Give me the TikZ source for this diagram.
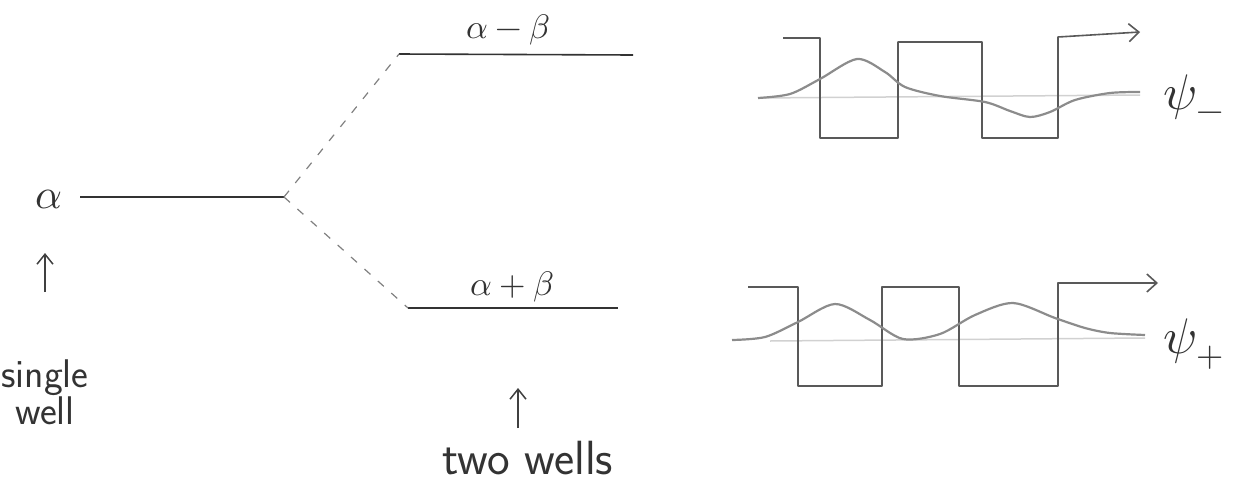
\documentclass[tikz,border=0pt]{standalone}
\usepackage{unicode-math}
\setmathfont{Latin Modern Math}
\usetikzlibrary{arrows.meta}
\begin{document}
\begin{tikzpicture}[x=1pt,y=-1pt,
  level/.style={line width=1.6pt, draw=black!80},
  wellline/.style={line width=1.6pt, draw=black!65, line join=round},
  wave/.style={line width=2.2pt, draw=black!45},
  axisline/.style={line width=1.5pt, draw=black!18},
  conn/.style={line width=1.2pt, draw=black!50, dash pattern=on 8pt off 10pt},
  lbl/.style={font=\fontsize{34}{38}\selectfont, inner sep=0pt, text=black!80},
  biglbl/.style={font=\fontsize{50}{55}\selectfont, inner sep=0pt, text=black!80},
  txt/.style={font=\sffamily\fontsize{40}{34}\selectfont, inner sep=0pt, text=black!80},
  uparrow/.style={-{Straight Barb[length=10pt,width=16pt]}, line width=1.5pt, draw=black!75},
  tip/.style={-{Straight Barb[length=10pt,width=18pt]}}]
\useasboundingbox (0,0) rectangle (1242,488);

% energy levels
\node[biglbl, font=\fontsize{42}{46}\selectfont] (alpha) at (49,199) {$\alpha$};
\coordinate (s0) at (80,197);
\coordinate (s1) at (284,197);
\draw[level] (s0) -- (s1);

\coordinate (u0) at (399,54);
\coordinate (u1) at (633,55);
\draw[level] (u0) -- (u1);
\node[lbl] (am) at (508,30) {$\alpha-\beta$};

\coordinate (l0) at (408,308);
\coordinate (l1) at (618,308);
\draw[level] (l0) -- (l1);
\node[lbl] (ap) at (512,287) {$\alpha+\beta$};

\draw[conn] (s1) -- (u0);
\draw[conn] (s1) -- (l0);

% annotations
\node[txt, align=center] (single) at (45,392) {single\\well};
\coordinate (sa0) at (45,292);
\coordinate (sa1) at (45,253);
\draw[uparrow] (sa0) -- (sa1);

\node[txt, font=\sffamily\fontsize{48}{50}\selectfont] (two) at (528,458) {two wells};
\coordinate (ta0) at (518,428);
\coordinate (ta1) at (518,388);
\draw[uparrow] (ta0) -- (ta1);

% psi minus
\draw[axisline] (758,98) -- (1140,95);
\draw[wellline, tip] (783,38) -- (820,38) -- (820,138) -- (898,138) -- (898,42)
  -- (982,42) -- (982,138) -- (1058,138) -- (1058,37) -- (1140,32);
\draw[wave] plot[smooth] coordinates {(758,98) (790,94) (820,79) (857,59) (885,72) (905,87)
  (940,96) (985,102) (1010,111) (1030,117) (1050,112) (1075,100) (1110,93) (1140,92)};
\node[biglbl] (psim) at (1194,98) {$\psi_{-}$};

% psi plus
\draw[axisline] (770,341) -- (1145,338);
\draw[wellline, tip] (748,287) -- (798,287) -- (798,386) -- (882,386) -- (882,287)
  -- (959,287) -- (959,386) -- (1058,386) -- (1058,283) -- (1158,283);
\draw[wave] plot[smooth] coordinates {(732,340) (765,337) (798,322) (835,304) (870,320) (903,339)
  (940,334) (975,315) (1013,303) (1055,318) (1085,328) (1110,333) (1145,335)};
\node[biglbl] (psip) at (1194,344) {$\psi_{+}$};
\end{tikzpicture}
\end{document}
